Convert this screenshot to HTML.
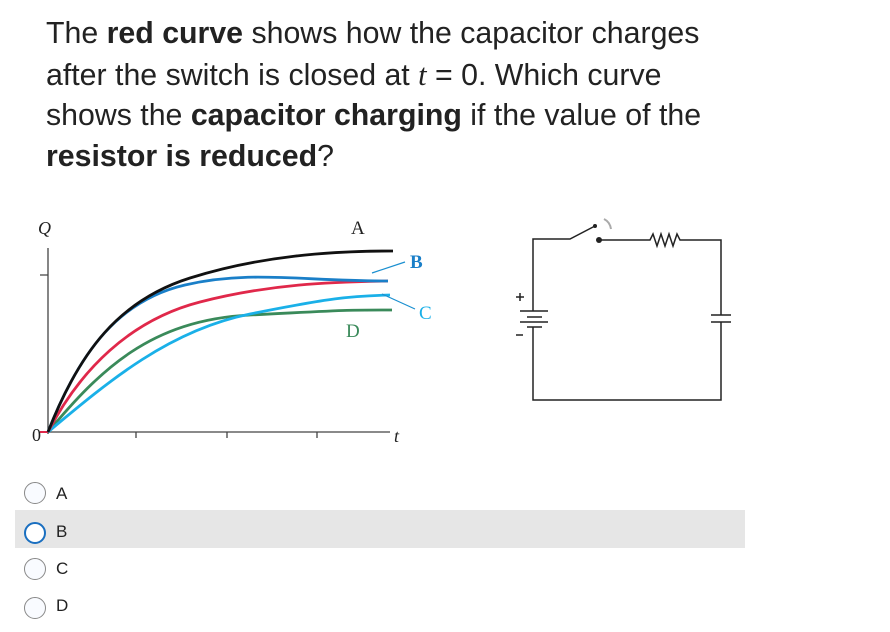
<!DOCTYPE html>
<html><head><meta charset="utf-8"><style>
body{margin:0;width:890px;height:632px;background:#fff;overflow:hidden;position:relative;font-family:"Liberation Sans",sans-serif}
.t{position:absolute;left:46px;top:14px;font-size:30.3px;line-height:40.7px;color:#222;white-space:nowrap}
.t i{font-family:"Liberation Serif",serif}
.band{position:absolute;left:15px;top:510px;width:730px;height:38px;background:#e6e6e6}
.opt{position:absolute;left:24px;width:22px;height:22px;border:1px solid #888;border-radius:50%;background:#f9fbff;box-sizing:border-box}
.lab{position:absolute;left:56px;font-size:17px;color:#222}
</style></head><body>
<div class="t">The <b>red curve</b> shows how the capacitor charges<br>after the switch is closed at <i>t</i> = 0. Which curve<br>shows the <b>capacitor charging</b> if the value of the<br><b>resistor is reduced</b>?</div>
<svg width="890" height="632" style="position:absolute;left:0;top:0" font-family="Liberation Serif,serif">
<g stroke="#444" stroke-width="1.3" fill="none">
<path d="M48,248V434M40,432H390M40,275H48M136,432v6M227,432v6M317,432v6"/>
</g>
<path d="M40,432H48" stroke="#e0284a" stroke-width="2"/>
<text x="32" y="441" font-size="18" fill="#222">0</text>
<text x="38" y="234" font-size="18" font-style="italic" fill="#222">Q</text>
<text x="394" y="442" font-size="18" font-style="italic" fill="#222">t</text>
<g fill="none" stroke-width="2.8">
<path d="M48,432 C100,370 150,320 250,315 S340,310 392,310" stroke="#3a8a5a"/>
<path d="M48,432 C110,380 170,330 250,314 S350,296 390,295" stroke="#1ab0e8"/>
<path d="M48,432 C80,370 130,320 200,302 S330,282 388,281" stroke="#e0284a"/>
<path d="M48,432 C80,350 120,300 185,285 S300,281 388,281" stroke="#1a7fc8"/>
<path d="M48,432 C80,350 120,300 190,278 S330,251 393,251" stroke="#111"/>
</g>
<path d="M372,273L405,262M382,294L415,309" stroke="#1a8fd0" stroke-width="1.2"/>
<text x="351" y="234" font-size="19" fill="#222">A</text>
<text x="410" y="268" font-size="19" font-weight="bold" fill="#1a7fc8">B</text>
<text x="419" y="319" font-size="19" fill="#1ab0e8">C</text>
<text x="346" y="337" font-size="19" fill="#3a8a5a">D</text>
<g stroke="#222" stroke-width="1.5" fill="none">
<path d="M533,311V239H570L595,226"/>
<path d="M599,240H650l3,-6l4,12l4,-12l4,12l4,-12l4,12l4,-12l3,6H721V315M721,322V400H533V327"/>
<path d="M711,315H731M711,322H731"/>
<path d="M520,311H548M527,317H542M520,322H548M527,327H542"/>
<path d="M516,297h8M520,293v8M516,335h7"/>
</g>
<circle cx="595" cy="226" r="2" fill="#222"/>
<circle cx="599" cy="240" r="3" fill="#222"/>
<path d="M604,219 Q610,222 611,229" stroke="#aaa" stroke-width="2" fill="none"/>
</svg>
<div class="band"></div>
<div class="opt" style="top:482px"></div><div class="lab" style="top:484px">A</div>
<div class="opt" style="top:522px;border:2px solid #1a6fc0;background:#fff"></div><div class="lab" style="top:522px">B</div>
<div class="opt" style="top:558px"></div><div class="lab" style="top:559px">C</div>
<div class="opt" style="top:597px"></div><div class="lab" style="top:596px">D</div>
</body></html>
